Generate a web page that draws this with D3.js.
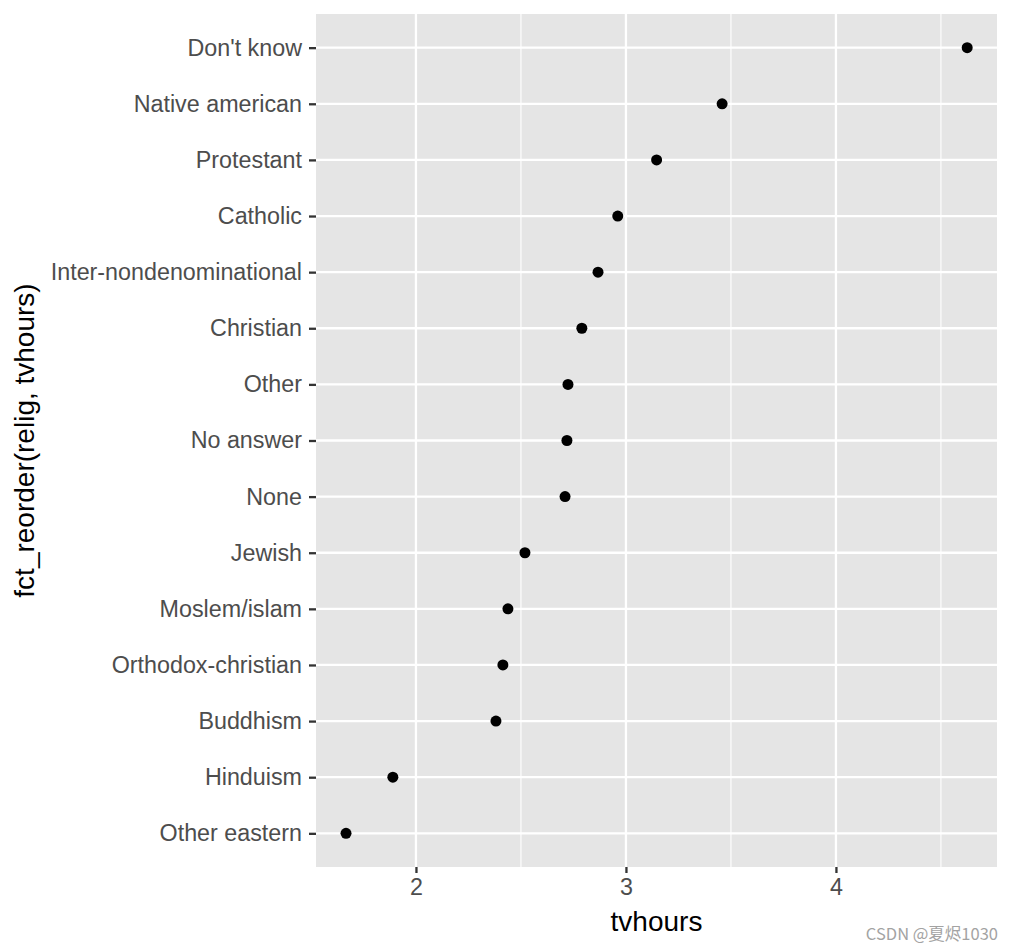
<!DOCTYPE html>
<html><head><meta charset="utf-8">
<script src="https://cdn.jsdelivr.net/npm/d3@7"></script>
<style>body{margin:0;background:#fff;}</style>
</head><body>
<script>
const categories = ["Don't know","Native american","Protestant","Catholic","Inter-nondenominational","Christian","Other","No answer","None","Jewish","Moslem/islam","Orthodox-christian","Buddhism","Hinduism","Other eastern"];
const tvhours = [4.625,3.458,3.146,2.961,2.867,2.790,2.724,2.719,2.710,2.519,2.438,2.414,2.381,1.890,1.667];
const xTicks = [2,3,4];
const xMinor = [2.5,3.5,4.5];

const W=1012,H=952;
const L=316,R=997,T=14,B=867;
const FF="Liberation Sans, Arial, sans-serif";
const svg=d3.select("body").append("svg").attr("width",W).attr("height",H).style("font-family",FF);
const x=d3.scaleLinear().domain([1.524,4.767]).range([L,R]);
const y=d3.scalePoint().domain(categories).range([T,B]).padding(0.6);

svg.append("rect").attr("x",L).attr("y",T).attr("width",R-L).attr("height",B-T).attr("fill","#E5E5E5");
svg.selectAll(".minor").data(xMinor).enter().append("line")
 .attr("x1",d=>x(d)).attr("x2",d=>x(d)).attr("y1",T).attr("y2",B).attr("stroke","#fff").attr("stroke-width",1.1);
svg.selectAll(".major").data(xTicks).enter().append("line")
 .attr("x1",d=>x(d)).attr("x2",d=>x(d)).attr("y1",T).attr("y2",B).attr("stroke","#fff").attr("stroke-width",2.3);
svg.selectAll(".hmaj").data(categories).enter().append("line")
 .attr("x1",L).attr("x2",R).attr("y1",d=>y(d)).attr("y2",d=>y(d)).attr("stroke","#fff").attr("stroke-width",2.3);

const xa=svg.append("g").attr("transform",`translate(0,${B})`).call(d3.axisBottom(x).tickValues(xTicks).tickFormat(d3.format("d")).tickSize(6).tickPadding(5));
xa.select(".domain").remove();
xa.selectAll("line").attr("stroke","#333").attr("stroke-width",2.3);
xa.selectAll("text").attr("fill","#4D4D4D").style("font-size","23.3px").style("font-family",FF);

const ya=svg.append("g").attr("transform",`translate(${L},0)`).call(d3.axisLeft(y).tickSize(7).tickPadding(7));
ya.select(".domain").remove();
ya.selectAll("line").attr("stroke","#333").attr("stroke-width",2.3);
ya.selectAll("text").attr("fill","#4D4D4D").style("font-size","23.3px").style("font-family",FF);

svg.selectAll(".pt").data(categories).enter().append("circle")
 .attr("cx",(d,i)=>x(tvhours[i])).attr("cy",d=>y(d)).attr("r",5.5).attr("fill","#000");

svg.append("text").attr("x",(L+R)/2).attr("y",931).attr("text-anchor","middle").style("font-size","28px").attr("fill","#000").text("tvhours");
svg.append("text").attr("transform",`translate(34,${(T+B)/2}) rotate(-90)`).attr("text-anchor","middle").style("font-size","28px").attr("fill","#000").text("fct_reorder(relig, tvhours)");
svg.append("text").attr("x",998).attr("y",940).attr("text-anchor","end").style("font-size","16.5px").attr("fill","#A3A3A3").style("font-family","Noto Sans CJK SC, sans-serif").text("CSDN @夏烬1030");
</script>
</body></html>
